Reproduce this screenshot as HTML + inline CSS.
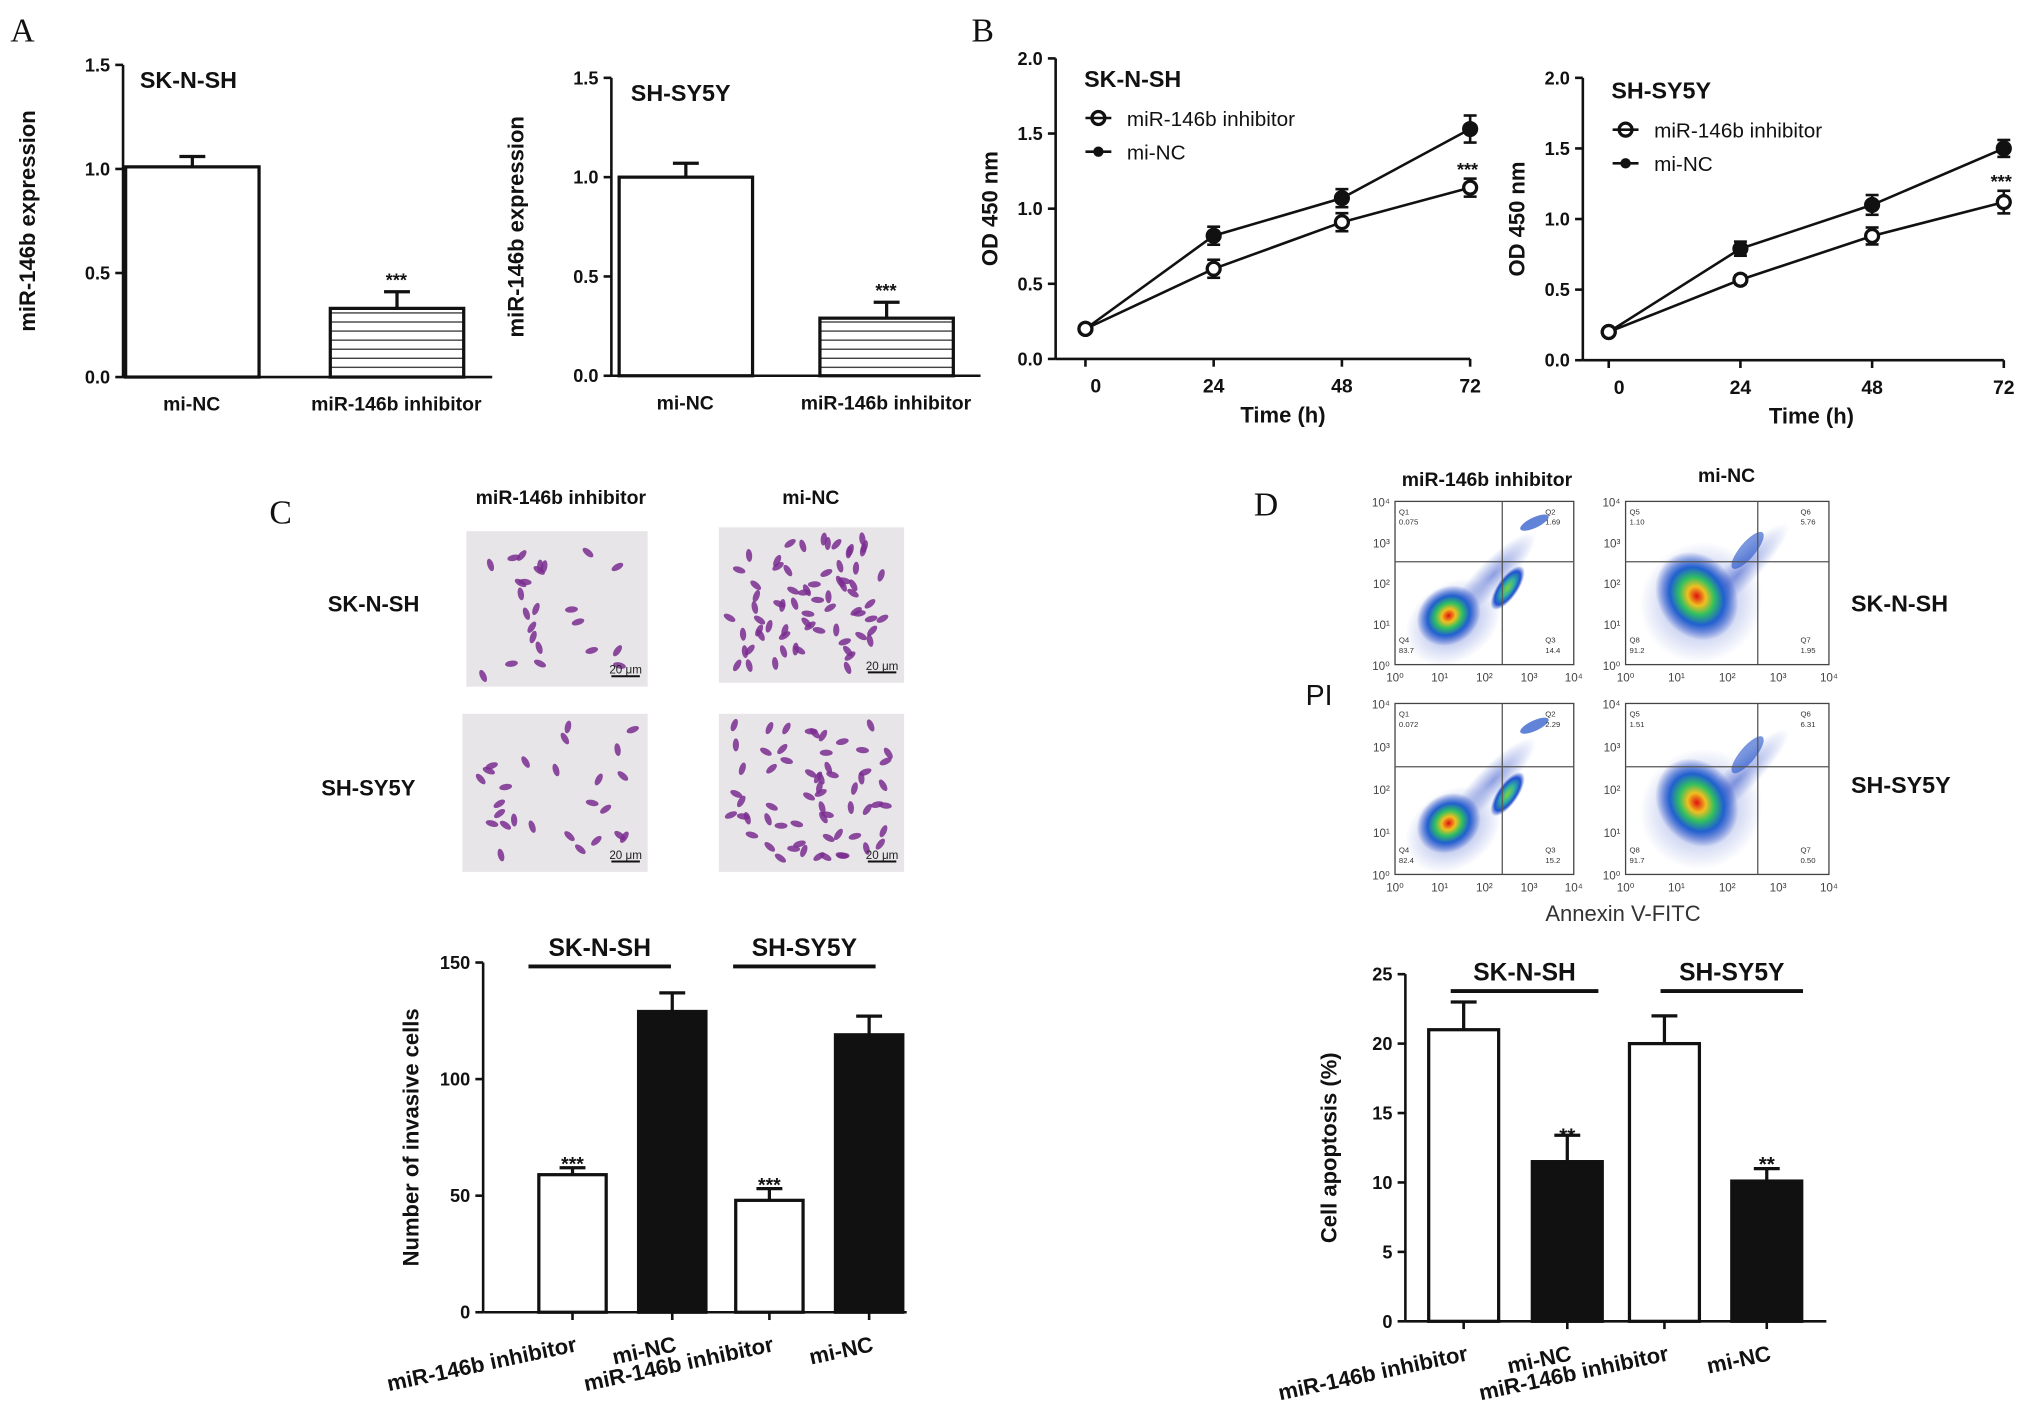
<!DOCTYPE html>
<html><head><meta charset="utf-8"><style>
html,body{margin:0;padding:0;background:#fff;}
svg{display:block;font-family:"Liberation Sans",Arial,sans-serif;}
</style></head><body>
<svg id="fig" width="2031" height="1416" viewBox="0 0 1568 1093" xmlns="http://www.w3.org/2000/svg">
<defs>
<pattern id="hatch" width="6" height="7" patternUnits="userSpaceOnUse"><rect width="6" height="7" fill="#fff"/><line x1="0" y1="3.5" x2="6" y2="3.5" stroke="#333" stroke-width="1"/></pattern>
<radialGradient id="blob" cx="50%" cy="50%" r="50%"><stop offset="0" stop-color="#e01010"/><stop offset="0.22" stop-color="#f0c020"/><stop offset="0.42" stop-color="#30c060"/><stop offset="0.65" stop-color="#2060d0"/><stop offset="1" stop-color="#2040c0" stop-opacity="0"/></radialGradient>
<radialGradient id="blob2" cx="50%" cy="50%" r="50%"><stop offset="0" stop-color="#80d040"/><stop offset="0.4" stop-color="#30b0a0"/><stop offset="0.75" stop-color="#2050d0"/><stop offset="1" stop-color="#2040c0" stop-opacity="0"/></radialGradient>
<radialGradient id="haze" cx="50%" cy="50%" r="50%"><stop offset="0" stop-color="#3050c8" stop-opacity="0.55"/><stop offset="1" stop-color="#3050c8" stop-opacity="0"/></radialGradient>
</defs>
<g id="root"></g>
</svg>
<script>
// Panel A data
const aCats = ["mi-NC","miR-146b inhibitor"];
const aLeftVals = [1.01, 0.33];
const aLeftErr = [1.06, 0.41];
const aRightVals = [1.0, 0.29];
const aRightErr = [1.07, 0.37];
const aTicks = [0, 0.5, 1.0, 1.5];
// Panel B data
const bTimes = [0, 24, 48, 72];
const bLeftInh = [0.2, 0.6, 0.91, 1.14];
const bLeftInhErr = [0.02, 0.06, 0.06, 0.06];
const bLeftNC = [0.2, 0.82, 1.07, 1.53];
const bLeftNCErr = [0.02, 0.06, 0.06, 0.09];
const bRightInh = [0.2, 0.57, 0.88, 1.12];
const bRightInhErr = [0.02, 0.03, 0.06, 0.08];
const bRightNC = [0.2, 0.79, 1.1, 1.5];
const bRightNCErr = [0.02, 0.05, 0.07, 0.06];
const bTicks = [0, 0.5, 1.0, 1.5, 2.0];
// Panel C data
const cCats = ["miR-146b inhibitor","mi-NC","miR-146b inhibitor","mi-NC"];
const cVals = [59, 129, 48, 119];
const cErr = [62, 137, 53, 127];
const cTicks = [0, 50, 100, 150];
// Panel D data
const dCats = ["miR-146b inhibitor","mi-NC","miR-146b inhibitor","mi-NC"];
const dVals = [21, 11.5, 20, 10.1];
const dErr = [23, 13.4, 22, 11];
const dTicks = [0, 5, 10, 15, 20, 25];

const NS = "http://www.w3.org/2000/svg";
const root = document.getElementById('root');
function el(tag, attrs, parent, text){
  const e = document.createElementNS(NS, tag);
  for (const k in attrs) e.setAttribute(k, attrs[k]);
  if (text !== undefined) e.textContent = text;
  (parent||root).appendChild(e);
  return e;
}
function txt(x,y,s,size,opts){
  const o = Object.assign({x:x,y:y,'font-size':size,fill:'#111'}, opts||{});
  return el('text', o, null, s);
}
function line(x1,y1,x2,y2,w){ return el('line',{x1,y1,x2,y2,stroke:'#111','stroke-width':w||2}); }
function lin(d0,d1,r0,r1){ return v => r0 + (v-d0)/(d1-d0)*(r1-r0); }

function yAxis(x, y0, y1, ticks, max, fmt, title, tx){
  const sy = lin(0,max,y0,y1);
  line(x, y0, x, y1);
  ticks.forEach(t=>{
    line(x-6, sy(t), x, sy(t));
    const tl = txt(x-10, sy(t)+5, fmt(t), 14, {'text-anchor':'end','font-weight':'bold'});
    
    
  });
  const yt = txt(0,0,title,17,{'text-anchor':'middle','font-weight':'bold',transform:`translate(${tx},${(y0+y1)/2}) rotate(-90)`});
  
  
  return sy;
}
function bar(x,w,v,e,sy,fill,name){
  const r = el('rect',{x:x,y:sy(v),width:w,height:sy(0)-sy(v),fill:fill,stroke:'#111','stroke-width':2.5});
  
  
  const cx = x+w/2;
  line(cx, sy(v), cx, sy(e), 2.5);
  line(cx-10, sy(e), cx+10, sy(e), 2.5);
}
const f1 = t=>t.toFixed(1);
const f0 = t=>String(t);

// ---------- Panel A ----------
txt(8,32,"A",26,{'font-family':'Liberation Serif, serif'});
function panelA(ax, y0, y1, xEnd, vals, errs, title, tX, tY, xs){
  const sy = yAxis(ax, y0, y1, aTicks, 1.5, f1, "miR-146b expression", ax-68);
  line(ax, y0, xEnd, y0);
  bar(xs[0],103,vals[0],errs[0],sy,'#fff','bar-mi-nc');
  bar(xs[1],103,vals[1],errs[1],sy,'url(#hatch)','bar-inhibitor');
  txt(xs[1]+51, sy(errs[1])-4, "***", 14, {'text-anchor':'middle','font-weight':'bold'});
  aCats.forEach((c,i)=>{
    const t = txt(xs[i]+51, y0+26, c, 15, {'text-anchor':'middle','font-weight':'bold'});
    
    
  });
  const tt = txt(tX,tY,title,18,{'font-weight':'bold'});
  
  
}
panelA(95, 291, 50, 380, aLeftVals, aLeftErr, "SK-N-SH", 108, 68, [97,255]);
panelA(472, 290, 60, 757, aRightVals, aRightErr, "SH-SY5Y", 487, 78, [478,633]);

// ---------- Panel B ----------
txt(750,32,"B",26,{'font-family':'Liberation Serif, serif'});
function panelB(ax, y0, y1, x0, x72, inh, inhE, nc, ncE, title, ty){
  const sy = yAxis(ax, y0, y1, bTicks, 2.0, f1, "OD 450 nm", ax-45);
  const sx = lin(0,72,x0,x72);
  line(ax, y0, x72, y0);
  bTimes.forEach(t=>{
    line(sx(t), y0, sx(t), y0+6);
    txt(sx(t)+(t===0?8:0), y0+26, String(t), 15, {'text-anchor':'middle','font-weight':'bold'});
  });
  txt((x0+x72)/2+4, y0+49, "Time (h)", 17, {'text-anchor':'middle','font-weight':'bold'});
  [[nc,ncE,'#111','line-mi-nc'],[inh,inhE,'#fff','line-inhibitor']].forEach(([d,e,f,n])=>{
    const p = el('polyline',{points:d.map((v,i)=>sx(bTimes[i])+','+sy(v)).join(' '),fill:'none',stroke:'#111','stroke-width':2});
    
    
    d.forEach((v,i)=>{
      const x = sx(bTimes[i]);
      line(x, sy(v-e[i]), x, sy(v+e[i]), 2);
      line(x-5, sy(v-e[i]), x+5, sy(v-e[i]), 2);
      line(x-5, sy(v+e[i]), x+5, sy(v+e[i]), 2);
      const c = el('circle',{cx:x,cy:sy(v),r:5,fill:f,stroke:'#111','stroke-width':2.5});
      
      
    });
  });
  txt(x72-2, sy(inh[3]+inhE[3])-2, "***", 14, {'text-anchor':'middle','font-weight':'bold'});
  txt(ax+22, ty, title, 18, {'font-weight':'bold'});
  const lg = ax+33;
  el('circle',{cx:lg,cy:ty+24,r:5,fill:'#fff',stroke:'#111','stroke-width':2.5});
  line(lg-10,ty+24,lg+10,ty+24);
  txt(lg+22, ty+30, "miR-146b inhibitor", 16);
  el('circle',{cx:lg,cy:ty+50,r:4,fill:'#111'});
  line(lg-10,ty+50,lg+10,ty+50);
  txt(lg+22, ty+56, "mi-NC", 16);
}
panelB(815, 277, 45, 838, 1135, bLeftInh, bLeftInhErr, bLeftNC, bLeftNCErr, "SK-N-SH", 67);
panelB(1222, 278, 60, 1242, 1547, bRightInh, bRightInhErr, bRightNC, bRightNCErr, "SH-SY5Y", 76);

// ---------- Panel C micrographs ----------
txt(208,404,"C",26,{'font-family':'Liberation Serif, serif'});
txt(433,389,"miR-146b inhibitor",15,{'text-anchor':'middle','font-weight':'bold'});
txt(626,389,"mi-NC",15,{'text-anchor':'middle','font-weight':'bold'});
txt(253,472,"SK-N-SH",17,{'font-weight':'bold'});
txt(248,614,"SH-SY5Y",17,{'font-weight':'bold'});
const imgs = [[360,410,140,120,24],[555,407,143,120,70],[357,551,143,122,26],[555,551,143,122,62]];
imgs.forEach((m,k)=>{
  const g = el('g',{});
  
  
  el('rect',{x:m[0],y:m[1],width:m[2],height:m[3],fill:'#e8e5e8'},g);
  let s = 17+k*31;
  const rnd = ()=>{ s = (s*9301+49297)%233280; return s/233280; };
  for(let i=0;i<m[4];i++){
    const cx = m[0]+8+rnd()*(m[2]-16), cy = m[1]+8+rnd()*(m[3]-16), a = rnd()*180;
    el('ellipse',{cx:cx,cy:cy,rx:5,ry:2.4,fill:'#7a2e90',opacity:0.85,transform:`rotate(${a} ${cx} ${cy})`},g);
  }
  line(m[0]+m[2]-28,m[1]+m[3]-8,m[0]+m[2]-6,m[1]+m[3]-8,1.5);
  el('text',{x:m[0]+m[2]-17,y:m[1]+m[3]-10,'font-size':9,'text-anchor':'middle',fill:'#222'},g,"20 μm");
});

// ---------- bar chart helper ----------
function panelBars(ax, y0, y1, xEnd, ticks, max, vals, errs, cats, xs, w, title, tx, grp, stars){
  const sy = yAxis(ax, y0, y1, ticks, max, f0, title, tx);
  line(ax, y0, xEnd, y0);
  vals.forEach((v,i)=>{
    bar(xs[i], w, v, errs[i], sy, i%2===0?'#fff':'#111', 'bar-'+i);
    line(xs[i]+w/2, y0, xs[i]+w/2, y0+6);
    if(stars && i%2===0) txt(xs[i]+w/2, sy(errs[i])+2, stars, 15, {'text-anchor':'middle','font-weight':'bold'});
    const t = txt(0,0,cats[i],17,{'text-anchor':'end','font-weight':'bold',transform:`translate(${xs[i]+w/2+4},${y0+30}) rotate(-12)`});
    
    
  });
  grp.forEach(g=>{
    line(g[0], g[1], g[2], g[1], 3);
    txt((g[0]+g[2])/2, g[1]-8, g[3], 19, {'text-anchor':'middle','font-weight':'bold'});
  });
}
panelBars(373, 1013, 743, 700, cTicks, 150, cVals, cErr, cCats, [416,493,568,645], 52, "Number of invasive cells", 323,
  [[408,746,518,"SK-N-SH"],[566,746,676,"SH-SY5Y"]], "***");

// ---------- Panel D flow plots ----------
txt(968,398,"D",26,{'font-family':'Liberation Serif, serif'});
txt(1148,375,"miR-146b inhibitor",15,{'text-anchor':'middle','font-weight':'bold'});
txt(1333,372,"mi-NC",15,{'text-anchor':'middle','font-weight':'bold'});
txt(1008,544,"PI",22);
txt(1429,472,"SK-N-SH",18,{'font-weight':'bold'});
txt(1429,612,"SH-SY5Y",18,{'font-weight':'bold'});
txt(1253,711,"Annexin V-FITC",17,{'text-anchor':'middle','fill':'#333'});
const flows = [[1077,387,138,126],[1255,387,157,126],[1077,543,138,132],[1255,543,157,132]];
const qlabels = [["Q1","0.075","Q2","1.69","Q4","83.7","Q3","14.4"],["Q5","1.10","Q6","5.76","Q8","91.2","Q7","1.95"],["Q1","0.072","Q2","2.29","Q4","82.4","Q3","15.2"],["Q5","1.51","Q6","6.31","Q8","91.7","Q7","0.50"]];
flows.forEach((f,k)=>{
  const [x,y,w,h] = f;
  const g = el('g',{});
  
  
  el('rect',{x:x,y:y,width:w,height:h,fill:'#fff',stroke:'#444','stroke-width':1},g);
  const left = k%2===0;
  const bx = x+w*(left?0.3:0.35), by = y+h*(left?0.7:0.58);
  el('ellipse',{cx:bx,cy:by+6,rx:left?40:48,ry:left?30:46,fill:'url(#haze)',transform:`rotate(-35 ${bx} ${by})`},g);
  el('ellipse',{cx:x+w*0.55,cy:y+h*0.45,rx:left?45:55,ry:12,fill:'url(#haze)',transform:`rotate(-45 ${x+w*0.55} ${y+h*0.45})`},g);
  el('ellipse',{cx:bx,cy:by,rx:left?26:30,ry:left?22:36,fill:'url(#blob)',transform:`rotate(-35 ${bx} ${by})`},g);
  if(left){
    el('ellipse',{cx:x+w*0.63,cy:y+h*0.53,rx:20,ry:8,fill:'url(#blob2)',transform:`rotate(-55 ${x+w*0.63} ${y+h*0.53})`},g);
    el('ellipse',{cx:x+w*0.78,cy:y+h*0.13,rx:12,ry:4,fill:'#2050c8',opacity:0.7,transform:`rotate(-25 ${x+w*0.78} ${y+h*0.13})`},g);
  } else {
    el('ellipse',{cx:x+w*0.6,cy:y+h*0.3,rx:18,ry:6,fill:'#2050c8',opacity:0.6,transform:`rotate(-50 ${x+w*0.6} ${y+h*0.3})`},g);
  }
  el('line',{x1:x+w*(left?0.6:0.65),y1:y,x2:x+w*(left?0.6:0.65),y2:y+h,stroke:'#555','stroke-width':1},g);
  el('line',{x1:x,y1:y+h*0.37,x2:x+w,y2:y+h*0.37,stroke:'#555','stroke-width':1},g);
  const q = qlabels[k];
  [[x+3,y+10,0],[x+w-22,y+10,2],[x+3,y+h-17,4],[x+w-22,y+h-17,6]].forEach(p=>{
    el('text',{x:p[0],y:p[1],'font-size':6,fill:'#333'},g,q[p[2]]);
    el('text',{x:p[0],y:p[1]+8,'font-size':6,fill:'#333'},g,q[p[2]+1]);
  });
  ['10⁰','10¹','10²','10³','10⁴'].forEach((t,i)=>{
    el('text',{x:x-4,y:y+h-i*h/4+4,'font-size':9,'text-anchor':'end',fill:'#444'},g,t);
    el('text',{x:x+i*w/4,y:y+h+13,'font-size':9,'text-anchor':'middle',fill:'#444'},g,t);
  });
});

// ---------- Panel D bar chart ----------
panelBars(1085, 1020, 752, 1410, dTicks, 25, dVals, dErr, dCats, [1103,1183,1258,1337], 54, "Cell apoptosis (%)", 1032,
  [[1120,765,1234,"SK-N-SH"],[1282,765,1392,"SH-SY5Y"]], "");
txt(1210, 882, "**", 16, {'text-anchor':'middle','font-weight':'bold'});
txt(1364, 904, "**", 16, {'text-anchor':'middle','font-weight':'bold'});
</script>
</body></html>
